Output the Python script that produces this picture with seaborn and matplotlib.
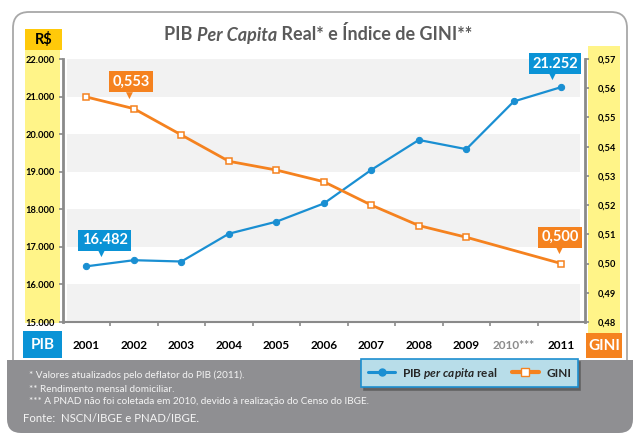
import matplotlib
matplotlib.use('Agg')
import matplotlib.pyplot as plt
import seaborn as sns
import pandas as pd
from matplotlib.patches import FancyBboxPatch
from matplotlib.lines import Line2D
from matplotlib.transforms import Affine2D

# ---------------- data ----------------
years = [2001, 2002, 2003, 2004, 2005, 2006, 2007, 2008, 2009, 2010, 2011]
year_labels = ['2001', '2002', '2003', '2004', '2005', '2006', '2007', '2008', '2009', '2010***', '2011']
pib = [16482, 16645, 16610, 17350, 17670, 18155, 19050, 19845, 19600, 20870, 21252]
gini_years = [2001, 2002, 2003, 2004, 2005, 2006, 2007, 2008, 2009, 2011]
gini = [0.557, 0.553, 0.544, 0.535, 0.532, 0.528, 0.520, 0.513, 0.509, 0.500]
pib_ticks = [15000, 16000, 17000, 18000, 19000, 20000, 21000, 22000]
pib_tick_labels = ['15.000', '16.000', '17.000', '18.000', '19.000', '20.000', '21.000', '22.000']
gini_ticks = [0.48, 0.49, 0.50, 0.51, 0.52, 0.53, 0.54, 0.55, 0.56, 0.57]
gini_tick_labels = ['0,48', '0,49', '0,50', '0,51', '0,52', '0,53', '0,54', '0,55', '0,56', '0,57']
title_parts = [('PIB ', 'normal'), ('Per Capita', 'italic'), (' Real* e Índice de GINI**', 'normal')]
footnotes = ['* Valores atualizados pelo deflator do PIB (2011).',
             '** Rendimento mensal domiciliar.',
             '*** A PNAD não foi coletada em 2010, devido à realização do Censo do IBGE.']
source = 'Fonte:  NSCN/IBGE e PNAD/IBGE.'

df_pib = pd.DataFrame({'ano': years, 'pib': pib})
df_gini = pd.DataFrame({'ano': gini_years, 'gini': gini})

# ---------------- style ----------------
BLUE = '#1a8fd2'
BLUE_BOX = '#0a93d6'
ORANGE = '#f5821f'
GOLD = '#ffc90a'
YELLOW = '#fff488'
BAND = '#f2f2f2'
SPINE = '#8a8a8a'
TITLE = '#5a5a5a'
FOOT = '#8f8f92'

sns.set_theme(style='white')
plt.rcParams['font.family'] = ['Lato', 'DejaVu Sans']
plt.rcParams['mathtext.fontset'] = 'custom'
plt.rcParams['mathtext.rm'] = 'Lato:bold'
plt.rcParams['mathtext.it'] = 'Lato:italic:bold'
plt.rcParams['mathtext.bf'] = 'Lato:bold'

W, H = 639, 440
fig = plt.figure(figsize=(W / 100, H / 100), dpi=100)
fig.patch.set_facecolor('white')
px = Affine2D().scale(1 / W, 1 / H) + fig.transFigure


def fx(x):
    return x / W


def fy(y):
    return 1 - y / H


def rbox(x0, y0, x1, y1, fc, ec='none', lw=0, r=0, z=-1):
    p = FancyBboxPatch((x0, H - y1), x1 - x0, y1 - y0,
                       boxstyle=f'round,pad=0,rounding_size={r}' if r else 'square,pad=0',
                       transform=px, fc=fc, ec=ec, lw=lw, zorder=z)
    fig.patches.append(p)
    return p


# outer panel and footer
rbox(13, 12, 627, 380, 'white', ec='#a8a8a8', lw=1.3, r=16, z=-3)
rbox(7, 360, 633, 433, FOOT, r=14, z=1)
rbox(7, 360, 633, 385, FOOT, z=1)

# side boxes
rbox(25, 50, 60, 323, YELLOW, z=-2)
rbox(25, 29, 62, 50, GOLD, z=-2)
rbox(23, 331, 62, 358, BLUE_BOX, z=-2)
rbox(588, 46, 620, 333, YELLOW, z=-2)
rbox(586, 333, 622, 358, ORANGE, z=-2)

fig.text(fx(43.5), fy(40), 'R$', ha='center', va='center', fontsize=10.5, fontweight='bold', color='black')
fig.text(fx(42.5), fy(345), 'PIB', ha='center', va='center', fontsize=11, fontweight='bold', color='white')
fig.text(fx(604), fy(346), 'GINI', ha='center', va='center', fontsize=11, fontweight='bold', color='white')

# title built from pieces (bold + bold italic), centred as a whole
renderer = fig.canvas.get_renderer()
pieces = []
for txt, style in title_parts:
    t = fig.text(0, fy(40.5), txt, ha='left', va='baseline', fontsize=13,
                 fontweight='bold', fontstyle=style, color=TITLE)
    pieces.append(t)
widths = [t.get_window_extent(renderer).width for t in pieces]
total = sum(widths)
x0 = 318 - total / 2
for t, w in zip(pieces, widths):
    t.set_x(fx(x0))
    x0 += w

# ---------------- axes ----------------
ax = fig.add_axes([fx(62.7), fy(322), (585 - 62.7) / W, (322 - 59) / H])
ax.set_facecolor('none')
ax2 = ax.twinx()

for lo in [15000, 17000, 19000, 21000]:
    ax.axhspan(lo, lo + 1000, xmin=0.008, xmax=0.99, color=BAND, lw=0, zorder=0)

sns.lineplot(data=df_pib, x='ano', y='pib', ax=ax, color=BLUE, linewidth=1.6,
             marker='o', markersize=4.5, markeredgecolor=BLUE, markerfacecolor=BLUE, zorder=3)
sns.lineplot(data=df_gini, x='ano', y='gini', ax=ax2, color=ORANGE, linewidth=2,
             marker='s', markersize=3.8, markeredgecolor=ORANGE, markerfacecolor='white',
             markeredgewidth=1.1, zorder=3)

ax.set_xlim(2000.5, 2011.5)
ax.set_ylim(15000, 22000)
ax2.set_ylim(0.48, 0.57)
ax.set_xlabel('')
ax.set_ylabel('')
ax2.set_ylabel('')

ax.set_yticks(pib_ticks, labels=pib_tick_labels, fontsize=6.7, fontweight='bold')
ax2.set_yticks(gini_ticks, labels=gini_tick_labels, fontsize=6.7, fontweight='bold')
ax.set_xticks(years, labels=year_labels, fontsize=8.5, fontweight='bold')
ax.set_xticks([y + 0.5 for y in years[:-1]], minor=True)

ax.tick_params(axis='y', direction='out', length=3, width=1.2, color=SPINE, pad=3, labelcolor='black', left=True)
ax2.tick_params(axis='y', direction='out', length=3, width=1.2, color=SPINE, pad=6, labelcolor='black', right=True)
ax.tick_params(axis='x', which='major', length=0, pad=13, labelcolor='black')
ax.tick_params(axis='x', which='minor', direction='out', length=3, width=1.2, color=SPINE, bottom=True)
ax.get_xticklabels()[9].set_color('#8c8c8c')

for s in ['top', 'right']:
    ax.spines[s].set_visible(False)
for s in ['top', 'left', 'bottom']:
    ax2.spines[s].set_visible(False)
ax.spines['left'].set_color(SPINE)
ax.spines['left'].set_linewidth(2)
ax.spines['bottom'].set_color(SPINE)
ax.spines['bottom'].set_linewidth(1.5)
ax2.spines['right'].set_color(SPINE)
ax2.spines['right'].set_linewidth(2)
ax.grid(False)
ax2.grid(False)


# value callouts
def callout(a, x, y, text, color, bdx, bdy, tdx, tdy):
    a.annotate(text, xy=(x, y), xytext=(bdx, bdy), textcoords='offset points',
               ha='center', va='center', color='white', fontsize=10.5, fontweight='bold',
               bbox=dict(boxstyle='square,pad=0.25', fc=color, ec='none'), zorder=6)
    a.annotate('▼', xy=(x, y), xytext=(tdx, tdy), textcoords='offset points',
               ha='center', va='center', color=color, fontsize=6.5,
               family='DejaVu Sans', zorder=6)


callout(ax, years[0], pib[0], '16.482', BLUE_BOX, 13, 18.6, 11, 9.5)
callout(ax, years[-1], pib[-1], '21.252', BLUE_BOX, -4.5, 16.8, -6.5, 7.5)
callout(ax2, gini_years[1], gini[1], '0,553', ORANGE, -2, 19.6, -3.5, 9.5)
callout(ax2, gini_years[-1], gini[-1], '0,500', ORANGE, -1, 19, -1.5, 9.5)

# legend
handles = [Line2D([], [], color=BLUE, lw=2.2, marker='o', markersize=5, markerfacecolor=BLUE),
           Line2D([], [], color=ORANGE, lw=3, marker='s', markersize=6,
                  markerfacecolor='white', markeredgecolor=ORANGE)]
labels = [r'PIB $\mathit{per\ capita}$ real', 'GINI']
leg = fig.legend(handles, labels, loc='center', bbox_to_anchor=(fx(469.5), fy(373)),
                 ncol=2, frameon=True, fancybox=False, shadow={'color': '#5f5f5f', 'alpha': 0.9},
                 facecolor='#b8dde9', edgecolor='#1e8fd0', framealpha=1,
                 prop={'weight': 'bold', 'size': 8.5}, handlelength=2.3, columnspacing=1.2,
                 handletextpad=0.6, borderpad=0.55, borderaxespad=0)
leg.get_frame().set_linewidth(1.2)
leg.set_zorder(5)

# footnotes
for txt, yy in zip(footnotes, [375, 389, 401]):
    fig.text(fx(29), fy(yy), txt, ha='left', va='center', fontsize=7.2, color='#f4f4f4', zorder=3)
fig.text(fx(23), fy(418), source, ha='left', va='center', fontsize=8.2, color='#f4f4f4', zorder=3)

fig.savefig('out.png', dpi=100, facecolor='white')
